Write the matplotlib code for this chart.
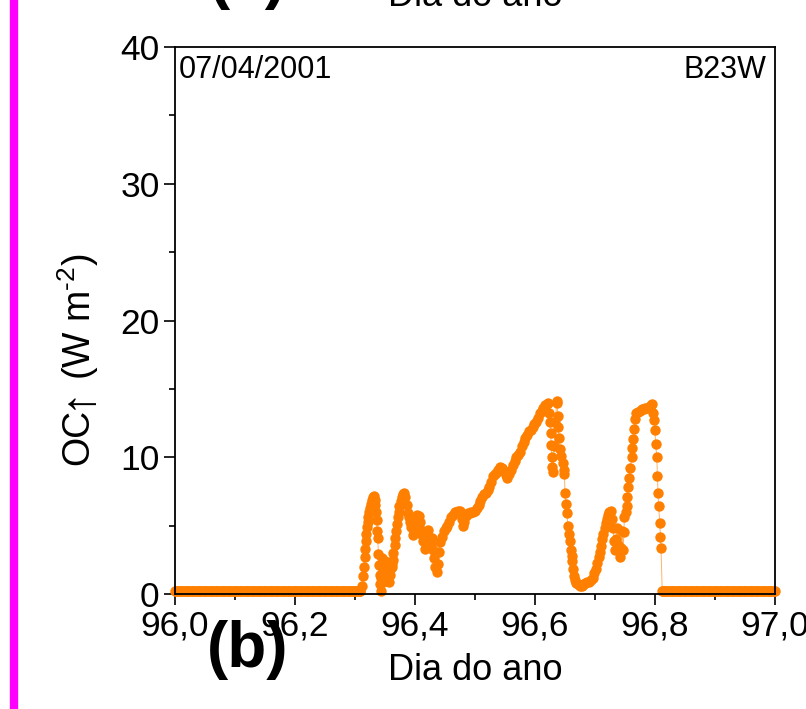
import numpy as np
import matplotlib.pyplot as plt
from matplotlib.lines import Line2D
from matplotlib.ticker import MultipleLocator, FuncFormatter

plt.rcParams['font.family'] = ['Liberation Sans', 'DejaVu Sans']
plt.rcParams['mathtext.default'] = 'regular'

# night samples, sensor baseline
night_am = np.arange(96.0, 96.309, 0.002)
night_pm = np.arange(96.814, 97.0001, 0.002)
night_level = 0.25

# daytime record (day of year, W m-2)
day_time = [
    96.309, 96.311, 96.313, 96.315, 96.316, 96.317, 96.318, 96.319, 96.320, 96.321,
    96.322, 96.323, 96.325, 96.326, 96.328, 96.330, 96.332, 96.333, 96.334, 96.335,
    96.336, 96.337, 96.338, 96.339, 96.340, 96.341, 96.342, 96.343, 96.344, 96.345,
    96.346, 96.347, 96.349, 96.350, 96.352, 96.354, 96.356, 96.358, 96.360, 96.361,
    96.362, 96.363, 96.364, 96.366, 96.367, 96.368, 96.370, 96.371, 96.373, 96.374,
    96.376, 96.378, 96.380,
    96.382, 96.384, 96.386, 96.388, 96.390, 96.392, 96.394, 96.396, 96.398, 96.400,
    96.402, 96.404, 96.406, 96.408, 96.410, 96.412, 96.414, 96.416, 96.418, 96.420,
    96.422, 96.424, 96.426, 96.428, 96.430, 96.432, 96.434, 96.436, 96.438, 96.440,
    96.442, 96.445, 96.448, 96.451, 96.454, 96.457, 96.460, 96.463, 96.466, 96.469,
    96.472, 96.475, 96.478, 96.480, 96.482, 96.485, 96.488, 96.491, 96.494, 96.497,
    96.500, 96.503, 96.506, 96.509, 96.512, 96.515, 96.518, 96.521, 96.524, 96.527,
    96.530, 96.533, 96.536, 96.539, 96.542, 96.545, 96.548, 96.551, 96.554, 96.557,
    96.560, 96.563, 96.566, 96.569, 96.572, 96.575, 96.578, 96.581, 96.584, 96.587,
    96.590, 96.593, 96.596, 96.599, 96.602, 96.605, 96.608, 96.611, 96.614, 96.617,
    96.620, 96.622,
    96.624, 96.625, 96.626, 96.627, 96.628, 96.629, 96.630, 96.632, 96.634, 96.636,
    96.637, 96.638, 96.639, 96.640, 96.642, 96.644, 96.646, 96.648, 96.649, 96.650,
    96.651, 96.653, 96.655, 96.657, 96.658, 96.660, 96.661, 96.662, 96.663, 96.665,
    96.667, 96.669, 96.672, 96.675, 96.678, 96.681, 96.684, 96.687, 96.690, 96.693,
    96.696, 96.699, 96.702, 96.704, 96.706, 96.708, 96.710, 96.712, 96.714, 96.716,
    96.718, 96.720, 96.722, 96.724, 96.726, 96.728, 96.730, 96.732, 96.733, 96.735,
    96.737, 96.739, 96.741, 96.743, 96.745, 96.747, 96.748, 96.749, 96.751, 96.753,
    96.754, 96.755, 96.757, 96.759, 96.761, 96.762, 96.763, 96.765, 96.767, 96.769,
    96.772, 96.775, 96.778, 96.781, 96.784, 96.787, 96.790, 96.793, 96.795, 96.797,
    96.799, 96.800, 96.801, 96.803, 96.804, 96.805, 96.806, 96.808, 96.809, 96.810,
    96.812, 96.813,
]
day_oc = [
    0.25, 0.6, 1.3, 2.0, 2.7, 3.3, 3.9, 4.4, 4.9, 5.3,
    5.6, 6.0, 6.3, 6.6, 6.9, 7.1, 7.2, 6.9, 6.5, 6.0,
    5.4, 4.6, 4.1, 2.9, 2.1, 1.4, 0.7, 0.2, 1.2, 2.6,
    1.8, 0.9, 1.6, 2.4, 1.9, 1.3, 0.9, 1.4, 1.9, 2.2,
    2.0, 2.5, 3.0, 3.6, 4.1, 4.6, 5.1, 5.6, 6.0, 6.4,
    6.8, 7.1, 7.3,
    7.4, 7.1, 6.5, 5.9, 5.6, 5.3, 4.9, 4.3, 4.6, 5.2,
    5.5, 5.8, 5.7, 5.3, 4.7, 4.3, 3.9, 3.3, 3.8, 4.4,
    4.7, 4.2, 3.6, 4.1, 3.2, 2.6, 2.0, 1.6, 2.2, 3.1,
    3.8, 4.2, 4.6, 4.8, 5.0, 5.3, 5.6, 5.8, 6.0, 6.0,
    6.1, 6.1, 5.5, 5.0, 5.3, 5.7, 5.9, 5.9, 6.0, 6.0,
    6.1, 6.3, 6.5, 6.8, 7.1, 7.3, 7.4, 7.6, 7.8, 8.2,
    8.6, 8.8, 8.9, 9.1, 9.3, 9.2, 9.0, 8.7, 8.5, 8.8,
    9.1, 9.4, 9.7, 10.0, 10.2, 10.4, 10.8, 11.1, 11.4, 11.6,
    11.9, 12.0, 12.2, 12.4, 12.6, 12.9, 13.2, 13.4, 13.6, 13.8,
    13.9, 14.0,
    13.2, 12.6, 11.8, 10.9, 10.0, 9.3, 8.9, 10.8, 12.6, 14.0,
    14.1, 13.0, 12.2, 11.4, 10.6, 10.1, 9.6, 9.1, 8.8, 7.4,
    6.6, 5.9, 5.0, 4.4, 3.9, 3.2, 2.8, 2.4, 1.8, 1.3,
    1.0, 0.8, 0.7, 0.6, 0.6, 0.7, 0.8, 0.9, 0.9, 1.0,
    1.2, 1.5, 1.8, 2.3, 2.7, 3.1, 3.5, 4.0, 4.4, 4.8,
    5.2, 5.5, 5.8, 6.0, 6.1, 5.5, 4.8, 3.9, 3.2, 4.0,
    4.8, 3.6, 2.7, 3.4, 4.6, 3.2, 4.5, 5.6, 6.0, 6.4,
    7.1, 7.8, 8.5, 9.2, 10.0, 10.7, 11.3, 12.1, 12.8, 13.2,
    13.3, 13.4, 13.5, 13.5, 13.6, 13.6, 13.7, 13.8, 13.9, 13.2,
    12.7, 12.0, 11.0, 10.0, 8.6, 7.4, 6.4, 5.2, 4.2, 3.4,
    0.25, 0.25,
]

t = np.concatenate([night_am, day_time, night_pm])
oc = np.concatenate([np.full(len(night_am), night_level), day_oc,
                     np.full(len(night_pm), night_level)])

W, H = 806, 709
fig = plt.figure(figsize=(W / 100, H / 100), dpi=100)
ax = fig.add_axes([175 / W, 1 - 594 / H, 600 / W, 547 / H])

orange = '#FF8000'
ax.plot(t, oc, '-', color=orange, lw=0.7, alpha=0.6, clip_on=False)
ax.plot(t, oc, 'o', color=orange, ms=7.5, mec='none', clip_on=False)

ax.set_xlim(96.0, 97.0)
ax.set_ylim(0, 40)
ax.xaxis.set_major_locator(MultipleLocator(0.2))
ax.xaxis.set_minor_locator(MultipleLocator(0.1))
ax.yaxis.set_major_locator(MultipleLocator(10))
ax.yaxis.set_minor_locator(MultipleLocator(5))
ax.xaxis.set_major_formatter(FuncFormatter(lambda v, p: f'{v:.1f}'.replace('.', ',')))
ax.tick_params(which='both', direction='out', top=False, right=False, width=1.2)
ax.tick_params(which='major', length=8, labelsize=25.5, pad=3)
ax.tick_params(which='minor', length=4.5)
for s in ax.spines.values():
    s.set_linewidth(1.3)

ax.text(0.006, 0.985, '07/04/2001', transform=ax.transAxes, ha='left', va='top', fontsize=22)
ax.text(0.985, 0.985, 'B23W', transform=ax.transAxes, ha='right', va='top', fontsize=22)

# y label built in three pieces so the arrow can be drawn taller
yl1 = fig.text(78 / W, 1 - 465 / H, 'OC', rotation=90, ha='center', va='bottom', fontsize=27)
yl2 = ax.annotate('\u2191', xy=(0.5, 1), xycoords=yl1, ha='center', va='bottom',
                  rotation=90, fontsize=34)
ax.annotate('(W m$^{\u20102}$)', xy=(0.5, 1), xycoords=yl2, xytext=(0, 4),
            textcoords='offset points', ha='center', va='bottom',
            rotation=90, fontsize=27)

fig.text(475 / W, 1 - 680 / H, 'Dia do ano', ha='center', va='baseline', fontsize=26)
fig.text(248 / W, 1 - 667 / H, '(b)', ha='center', va='baseline', fontsize=46, fontweight='bold')

# bottom of the panel above
fig.text(475 / W, 1 - 6 / H, 'Dia do ano', ha='center', va='baseline', fontsize=26)
fig.text(248 / W, 1 + 3 / H, '(a)', ha='center', va='baseline', fontsize=46, fontweight='bold')

fig.add_artist(Line2D([14 / W, 14 / W], [0, 1], color='#FF00FF', lw=6, transform=fig.transFigure))

fig.savefig('out.png', dpi=100)
